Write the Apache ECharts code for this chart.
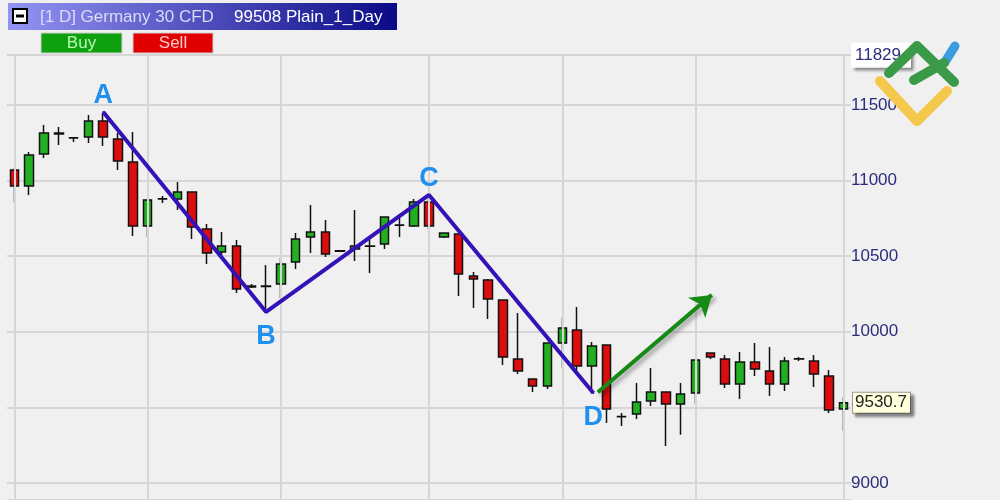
<!DOCTYPE html>
<html>
<head>
<meta charset="utf-8">
<script src="https://cdn.jsdelivr.net/npm/echarts@6/dist/echarts.min.js"></script>
<style>
html,body{margin:0;padding:0;background:#f0f0f0;}
#chart{width:1000px;height:500px;}
</style>
</head>
<body>
<div id="chart"></div>
<script>
// ---- data ----
const opens  = [11070,10964,11176,11308,11284,11288,11394,11275,11123,10700,10880,10878,10925,10680,10528,10567,10303,10303,10316,10462,10627,10660,10532,10548,10565,10581,10704,10700,10858,10627,10647,10369,10343,10210,9820,9688,9641,9925,10012,9774,9912,9437,9456,9542,9602,9522,9595,9860,9820,9655,9800,9741,9655,9820,9806,9707,9489];
const closes = [10964,11169,11315,11315,11282,11394,11288,11130,10700,10872,10878,10925,10693,10521,10567,10283,10296,10300,10448,10614,10660,10514,10536,10567,10568,10759,10707,10858,10700,10653,10382,10349,10217,9833,9741,9641,9925,10025,9774,9906,9489,9439,9536,9602,9522,9589,9813,9833,9655,9800,9754,9655,9806,9822,9721,9483,9530.7];
const lows   = [10858,10905,11149,11235,11255,11249,11229,11070,10634,10627,10852,10806,10614,10448,10481,10257,10290,10131,10223,10415,10521,10495,10528,10468,10389,10548,10627,10693,10680,10620,10237,10157,10084,9780,9721,9602,9622,9761,9741,9615,9397,9377,9423,9509,9245,9318,9522,9820,9628,9555,9707,9575,9608,9806,9635,9463,9344];
const highs  = [11083,11189,11368,11354,11288,11434,11447,11315,11321,10878,10898,10991,10930,10713,10660,10607,10316,10442,10488,10653,10839,10739,10541,10806,10620,10762,10753,10878,10898,10655,10650,10395,10349,10212,10124,9690,9928,10091,10164,9932,9915,9463,9661,9761,9605,9661,9816,9862,9847,9866,9925,9899,9833,9833,9847,9747,9569];
const categories = opens.map((_, i) => 'Day ' + (i + 1));
const gridIdx = [0, 9, 18, 28, 37, 46, 56];
const waveNames = ['A', 'B', 'C', 'D'];
const waveIdx = [6, 17, 28, 39.1];
const waveVals = [11454, 10131, 10905, 9595];
const arrowFrom = [39.4, 9600];
const arrowTo = [47.1, 10244];
const highMark = 11829;
const lastPrice = 9530.7;
const yMin = 8887, yMax = 11831;

const ohlc = opens.map((o, i) => [o, closes[i], lows[i], highs[i]]);
const waveData = waveIdx.map((x, i) => ({
  value: [x, waveVals[i]],
  name: waveNames[i],
  label: { position: (i % 2 === 0) ? 'top' : 'bottom', distance: i % 2 === 0 ? 2 : 10 }
}));

const chart = echarts.init(document.getElementById('chart'));
const FONT = 'Liberation Sans';

chart.setOption({
  backgroundColor: '#f0f0f0',
  animation: false,
  grid: { left: 7, right: 149, top: 55, bottom: 0 },
  xAxis: [
    { type: 'category', data: categories, boundaryGap: true, show: false },
    { type: 'value', min: -0.5, max: 56.5, show: false }
  ],
  yAxis: {
    type: 'value', position: 'right', min: yMin, max: yMax, splitNumber: 5,
    axisLine: { show: false }, axisTick: { show: false },
    axisLabel: { margin: 0, color: '#2c2c7e', fontSize: 17, fontFamily: FONT, showMinLabel: false, showMaxLabel: false, formatter: v => String(v) },
    splitLine: { show: true, lineStyle: { color: '#d6d6d6', width: 2 } }
  },
  series: [
    {
      type: 'line', xAxisIndex: 1, data: [], z: 0, silent: true,
      markLine: {
        silent: true, symbol: ['none', 'none'], label: { show: false },
        lineStyle: { color: '#d6d6d6', width: 2, type: 'solid' },
        data: gridIdx.map(v => ({ xAxis: v }))
      }
    },
    {
      type: 'candlestick', data: ohlc, barWidth: 9, z: 3,
      itemStyle: { color: '#22b022', color0: '#dc0d0d', borderColor: '#111', borderColor0: '#111', borderWidth: 1.5 },
      markLine: {
        silent: true, symbol: ['none', 'none'],
        lineStyle: { color: 'rgba(0,0,0,0)', width: 0 },
        data: [
          { yAxis: highMark, label: { show: true, position: 'end', distance: 0, formatter: String(highMark), color: '#2c2c7e', fontSize: 17, fontFamily: FONT, backgroundColor: '#ffffff', padding: [4, 10, 4, 4], shadowColor: 'rgba(0,0,0,0.45)', shadowBlur: 3, shadowOffsetX: 3, shadowOffsetY: 3 } },
          { yAxis: lastPrice, label: { show: true, position: 'end', distance: 2, formatter: String(lastPrice), color: '#222', fontSize: 17, fontFamily: FONT, backgroundColor: '#ffffdc', borderColor: '#999', borderWidth: 1, padding: [2, 3, 1, 2], shadowColor: 'rgba(0,0,0,0.45)', shadowBlur: 3, shadowOffsetX: 3, shadowOffsetY: 3 } }
        ]
      }
    },
    {
      type: 'line', xAxisIndex: 1, data: waveData, z: 5, symbol: 'circle', symbolSize: 2, showSymbol: true,
      itemStyle: { color: '#3412b8' },
      lineStyle: { color: '#3412b8', width: 4 },
      label: { show: true, formatter: p => p.name, color: '#1f8ff0', fontSize: 27, fontWeight: 'bold', fontFamily: FONT },
      markLine: {
        silent: true, symbol: ['none', 'arrow'], symbolSize: 20,
        label: { show: false },
        itemStyle: { color: '#168a16' },
        lineStyle: { color: '#168a16', width: 4, type: 'solid', shadowColor: 'rgba(0,0,0,0.35)', shadowBlur: 4, shadowOffsetX: 3, shadowOffsetY: 3 },
        data: [[{ coord: arrowFrom }, { coord: arrowTo }]]
      }
    }
  ],
  graphic: [
    { type: 'rect', z: 100, shape: { x: 8, y: 3, width: 389, height: 27 },
      style: { fill: new echarts.graphic.LinearGradient(0, 0, 1, 0, [{ offset: 0, color: '#9494f4' }, { offset: 1, color: '#0a0a86' }]) } },
    { type: 'rect', z: 101, shape: { x: 13, y: 9, width: 14, height: 14 }, style: { fill: '#fff', stroke: '#000', lineWidth: 2 } },
    { type: 'line', z: 102, shape: { x1: 16, y1: 16, x2: 24, y2: 16 }, style: { stroke: '#000', lineWidth: 3 } },
    { type: 'text', z: 101, x: 40, y: 17, style: { text: '[1 D] Germany 30 CFD', fill: '#dcdcfa', font: '17px "Liberation Sans"', verticalAlign: 'middle' } },
    { type: 'text', z: 101, x: 234, y: 17, style: { text: '99508 Plain_1_Day', fill: '#ffffff', font: '17px "Liberation Sans"', verticalAlign: 'middle' } },
    { type: 'rect', z: 100, shape: { x: 41, y: 33, width: 81, height: 20 }, style: { fill: '#0ea00e', stroke: '#cfcfcf', lineWidth: 1 } },
    { type: 'text', z: 101, x: 81.5, y: 43.5, style: { text: 'Buy', fill: '#b8f8b8', font: '17px "Liberation Sans"', align: 'center', verticalAlign: 'middle' } },
    { type: 'rect', z: 100, shape: { x: 133, y: 33, width: 80, height: 20 }, style: { fill: '#e00000', stroke: '#cfcfcf', lineWidth: 1 } },
    { type: 'text', z: 101, x: 173, y: 43.5, style: { text: 'Sell', fill: '#ffc8c8', font: '17px "Liberation Sans"', align: 'center', verticalAlign: 'middle' } },
    // logo
    { type: 'polyline', z: 110, shape: { points: [[880, 81], [917, 121], [947, 91]] }, style: { stroke: '#f4c84a', lineWidth: 10, lineCap: 'round', lineJoin: 'round', fill: null } },
    { type: 'polyline', z: 111, shape: { points: [[945, 62], [955, 46]] }, style: { stroke: '#3d9be0', lineWidth: 9, lineCap: 'round', fill: null } },
    { type: 'polyline', z: 112, shape: { points: [[889, 73], [917, 46], [954, 82]] }, style: { stroke: '#3a9a48', lineWidth: 10, lineCap: 'round', lineJoin: 'round', fill: null } },
    { type: 'polyline', z: 112, shape: { points: [[914, 80], [944, 63]] }, style: { stroke: '#3a9a48', lineWidth: 10, lineCap: 'round', fill: null } }
  ]
});
</script>
</body>
</html>
